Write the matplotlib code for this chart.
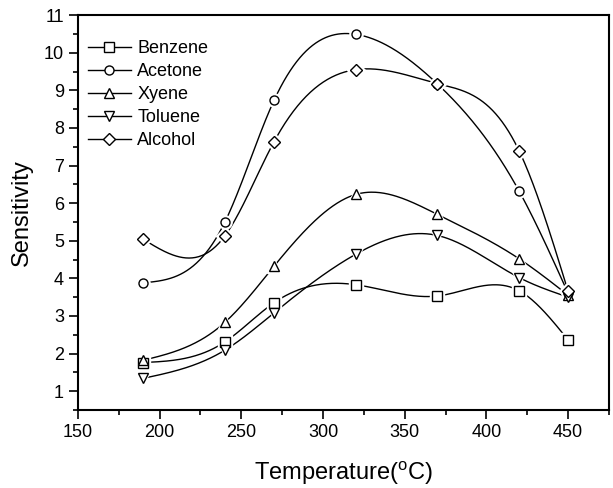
import numpy as np
import matplotlib
matplotlib.use("Agg")
import matplotlib.pyplot as plt
from matplotlib.ticker import MultipleLocator

plt.rcParams['font.family'] = ['Liberation Sans', 'DejaVu Sans']

temperature = [190, 240, 270, 320, 370, 420, 450]
benzene = [1.76, 2.31, 3.35, 3.83, 3.53, 3.67, 2.36]
acetone = [3.88, 5.50, 8.73, 10.49, 9.17, 6.32, 3.60]
xyene = [1.82, 2.83, 4.32, 6.23, 5.70, 4.52, 3.55]
toluene = [1.34, 2.09, 3.08, 4.64, 5.14, 4.02, 3.50]
alcohol = [5.04, 5.13, 7.63, 9.55, 9.18, 7.39, 3.65]

series = [("Benzene", benzene, "s"), ("Acetone", acetone, "o"),
          ("Xyene", xyene, "^"), ("Toluene", toluene, "v"),
          ("Alcohol", alcohol, "D")]


def natural_spline(x, y, xs):
    x = np.asarray(x, float); y = np.asarray(y, float)
    n = len(x)
    h = np.diff(x)
    A = np.zeros((n, n)); b = np.zeros(n)
    A[0, 0] = 1; A[-1, -1] = 1
    for i in range(1, n - 1):
        A[i, i - 1] = h[i - 1]
        A[i, i] = 2 * (h[i - 1] + h[i])
        A[i, i + 1] = h[i]
        b[i] = 3 * ((y[i + 1] - y[i]) / h[i] - (y[i] - y[i - 1]) / h[i - 1])
    c = np.linalg.solve(A, b)
    out = np.empty_like(xs)
    for j, xv in enumerate(xs):
        i = min(max(np.searchsorted(x, xv) - 1, 0), n - 2)
        dx = xv - x[i]
        bi = (y[i + 1] - y[i]) / h[i] - h[i] * (2 * c[i] + c[i + 1]) / 3
        di = (c[i + 1] - c[i]) / (3 * h[i])
        out[j] = y[i] + bi * dx + c[i] * dx ** 2 + di * dx ** 3
    return out


fig = plt.figure(figsize=(6.13, 4.88), dpi=100)
ax = fig.add_axes([0.127, 0.16, 0.8665, 0.809])

xs = np.linspace(min(temperature), max(temperature), 400)
for name, vals, m in series:
    ys = natural_spline(temperature, vals, xs)
    ax.plot(xs, ys, color='black', lw=1.0, zorder=2)
    ms = 6.5 if m != 'D' else 6
    ax.plot(temperature, vals, ls='none', marker=m, ms=ms + 3, mfc='white',
            mec='white', zorder=3)
    ax.plot(temperature, vals, ls='none', marker=m, ms=ms, mfc='white',
            mec='black', mew=1.0, zorder=4)

handles = []
for name, vals, m in series:
    ms = 6.5 if m != 'D' else 6
    h, = ax.plot([], [], color='black', lw=1.0, marker=m, ms=ms, mfc='white',
                 mec='black', mew=1.0, label=name)
    handles.append(h)
ax.legend(handles=handles, loc='upper left', frameon=False, fontsize=13,
          handlelength=2.4, handletextpad=0.35, labelspacing=0.33,
          borderaxespad=0.0, bbox_to_anchor=(0.005, 0.955))

ax.set_xlim(150, 475)
ax.set_ylim(0.5, 11)
ax.xaxis.set_major_locator(MultipleLocator(50))
ax.xaxis.set_minor_locator(MultipleLocator(25))
ax.yaxis.set_major_locator(MultipleLocator(1))
ax.yaxis.set_minor_locator(MultipleLocator(0.5))
ax.tick_params(which='both', direction='out', top=False, right=False,
               labelsize=13, width=1.2)
ax.tick_params(which='major', length=6.5)
ax.tick_params(which='minor', length=3.5)
for s in ax.spines.values():
    s.set_linewidth(1.5)

ax.set_xlabel('Temperature($^{\\mathregular{o}}$C)', fontsize=17, labelpad=13)
ax.set_ylabel('Sensitivity', fontsize=17, labelpad=8)

fig.savefig('out.png', dpi=100)
